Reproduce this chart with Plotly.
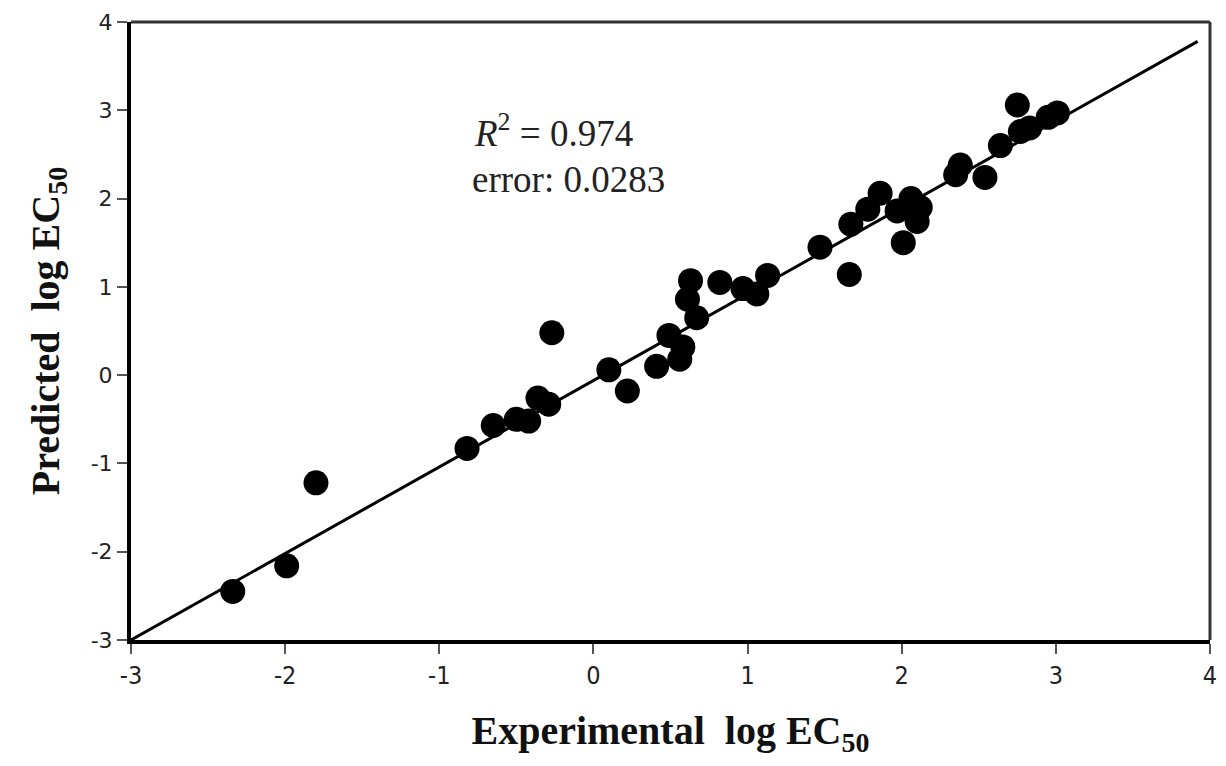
import plotly.graph_objects as go

exp_vals = [-2.34, -1.99, -1.80, -0.82, -0.65, -0.50, -0.42, -0.36, -0.29, -0.27,
            0.10, 0.22, 0.41, 0.49, 0.56, 0.58, 0.61, 0.63, 0.67, 0.82,
            0.97, 1.06, 1.13, 1.47, 1.66, 1.67, 1.78, 1.86, 1.97, 2.06,
            2.12, 2.10, 2.01, 2.35, 2.38, 2.54, 2.64, 2.77, 2.75, 2.83,
            2.95, 3.01]
pred_vals = [-2.45, -2.16, -1.22, -0.83, -0.57, -0.50, -0.52, -0.26, -0.33, 0.48,
             0.06, -0.18, 0.10, 0.45, 0.18, 0.32, 0.86, 1.07, 0.65, 1.05,
             0.98, 0.92, 1.13, 1.45, 1.14, 1.71, 1.88, 2.06, 1.86, 2.00,
             1.90, 1.74, 1.50, 2.27, 2.38, 2.24, 2.60, 2.76, 3.06, 2.80,
             2.92, 2.97]
fit_x = [-3.0, 3.92]
fit_y = [-3.0, 3.78]
x_ticks = [-3, -2, -1, 0, 1, 2, 3, 4]
y_ticks = [-3, -2, -1, 0, 1, 2, 3, 4]
x_tick_labels = ["-3", "-2", "-1", "0", "1", "2", "3", "4"]
y_tick_labels = ["-3", "-2", "-1", "0", "1", "2", "3", "4"]

# page has an 8px body margin; target plot box in screen px: x 131..1210, y 22..640
OFF = 8
W, H = 1218, 758
L, R, T, B = 131 - OFF, 1210 - OFF, 22 - OFF, 640 - OFF

fig = go.Figure()
fig.add_trace(go.Scatter(x=fit_x, y=fit_y, mode="lines",
                         line=dict(color="black", width=3), showlegend=False))
fig.add_trace(go.Scatter(x=exp_vals, y=pred_vals, mode="markers",
                         marker=dict(color="black", size=25), showlegend=False))

fig.add_annotation(xref="paper", yref="paper", x=(472 - OFF - L) / (R - L), y=(B - (130 - OFF)) / (B - T),
                   xanchor="left", yanchor="middle", showarrow=False,
                   text="<i>R</i><sup>2</sup> = 0.974",
                   font=dict(family="Liberation Serif", size=37, color="#222"))
fig.add_annotation(xref="paper", yref="paper", x=(470 - OFF - L) / (R - L), y=(B - (180 - OFF)) / (B - T),
                   xanchor="left", yanchor="middle", showarrow=False,
                   text="error: 0.0283",
                   font=dict(family="Liberation Serif", size=37, color="#222"))

# top and right frame lines (thinner than the main axes)
fig.add_shape(type="line", xref="paper", yref="paper", x0=0, x1=1, y0=1, y1=1,
              line=dict(color="#333", width=3))
fig.add_shape(type="line", xref="paper", yref="paper", x0=1, x1=1, y0=0, y1=1,
              line=dict(color="#333", width=3))

fig.update_layout(
    width=W, height=H,
    margin=dict(l=L, r=W - R, t=T, b=H - B),
    plot_bgcolor="white", paper_bgcolor="white",
    xaxis=dict(range=[-3, 4], tickvals=x_ticks, ticktext=x_tick_labels, showgrid=False, zeroline=False,
               showline=True, linecolor="black", linewidth=4, automargin=False,
               ticks="outside", ticklen=10, tickwidth=2, tickcolor="#555",
               tickfont=dict(family="Liberation Sans Narrow, DejaVu Sans Condensed", size=25, color="#222"),
               title=dict(text="<b>Experimental  log EC<sub>50</sub></b>", standoff=28,
                          font=dict(family="Liberation Serif", size=40, color="#111"))),
    yaxis=dict(range=[-3, 4], tickvals=y_ticks, ticktext=y_tick_labels, showgrid=False, zeroline=False,
               showline=True, linecolor="black", linewidth=4, automargin=False,
               ticks="outside", ticklen=10, tickwidth=2, tickcolor="#555",
               tickfont=dict(family="DejaVu Sans", size=22, color="#222"),
               title=dict(text="<b>Predicted  log EC<sub>50</sub></b>", standoff=20,
                          font=dict(family="Liberation Serif", size=40, color="#111"))),
)
fig.write_html("out.html")
